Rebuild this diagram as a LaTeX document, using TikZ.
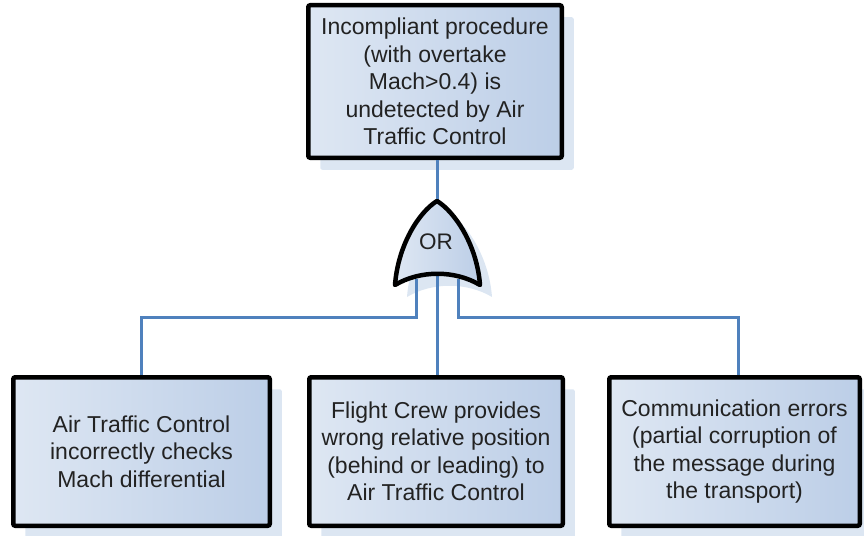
\documentclass[tikz,border=0pt]{standalone}
\usepackage{fontspec}
\setmainfont{Liberation Sans}
\usetikzlibrary{shadows}
\definecolor{wire}{RGB}{79,129,189}
\definecolor{shadowblue}{RGB}{220,230,242}
\definecolor{filllight}{RGB}{222,231,243}
\definecolor{filldark}{RGB}{188,206,231}
\definecolor{inktext}{RGB}{34,34,34}
\begin{document}
\begin{tikzpicture}[x=1pt,y=-1pt,
  event/.style={draw=black, line width=4.5pt, rounded corners=2pt,
    left color=filllight, right color=filldark,
    drop shadow={shadow xshift=12pt, shadow yshift=-12pt, fill=shadowblue, opacity=1},
    align=center, font=\fontsize{23}{27.5}\selectfont, text=inktext, inner sep=0pt},
  wireline/.style={draw=wire, line width=3pt},
  gateshape/.style={line width=4.5pt, line join=round},
]
\useasboundingbox (0,0) rectangle (864,535);

% top event
\node[event, minimum width=253.5pt, minimum height=152.5pt] (top) at (435,81.5)
  {Incompliant procedure\\(with overtake\\Mach>0.4) is\\undetected by Air\\Traffic Control};

% basic events
\node[event, minimum width=256.5pt, minimum height=148.5pt] (a) at (141.5,451.5)
  {Air Traffic Control\\incorrectly checks\\Mach differential};
\node[event, minimum width=253.5pt, minimum height=148.5pt] (b) at (436,451.5)
  {Flight Crew provides\\wrong relative position\\(behind or leading) to\\Air Traffic Control};
\node[event, minimum width=250.5pt, minimum height=148.5pt] (c) at (734.5,451.5)
  {Communication errors\\(partial corruption of\\the message during\\the transport)};

% OR gate anchor points
\coordinate (gtop) at (437,201);
\coordinate (gl) at (416,279);
\coordinate (gm) at (437,276);
\coordinate (gr) at (458,279);
\coordinate (bus) at (437,317);
\coordinate (cdrop) at (738,375);

% gate shadow
\fill[shadowblue, shift={(12,12)}]
  (437,201) .. controls (419,212) and (398,245) .. (395,285)
  .. controls (420,270) and (455,270) .. (480,285)
  .. controls (477,245) and (455,212) .. (437,201) -- cycle;

% connectors
\draw[wireline] (top.south -| gtop) -- (gtop);
\draw[wireline] (gl) -- (gl |- bus) -| (a.north);
\draw[wireline] (gm) -- (gm |- b.north);
\draw[wireline] (gr) -- (gr |- bus) -| (cdrop);

% gate body
\draw[gateshape, left color=filllight, right color=filldark]
  (437,201) .. controls (419,212) and (398,245) .. (395,285)
  .. controls (420,270) and (455,270) .. (480,285)
  .. controls (477,245) and (455,212) .. (437,201) -- cycle;
\node[font=\fontsize{22.5}{26}\selectfont, text=inktext] (gate) at (436,242) {OR};
\end{tikzpicture}
\end{document}
